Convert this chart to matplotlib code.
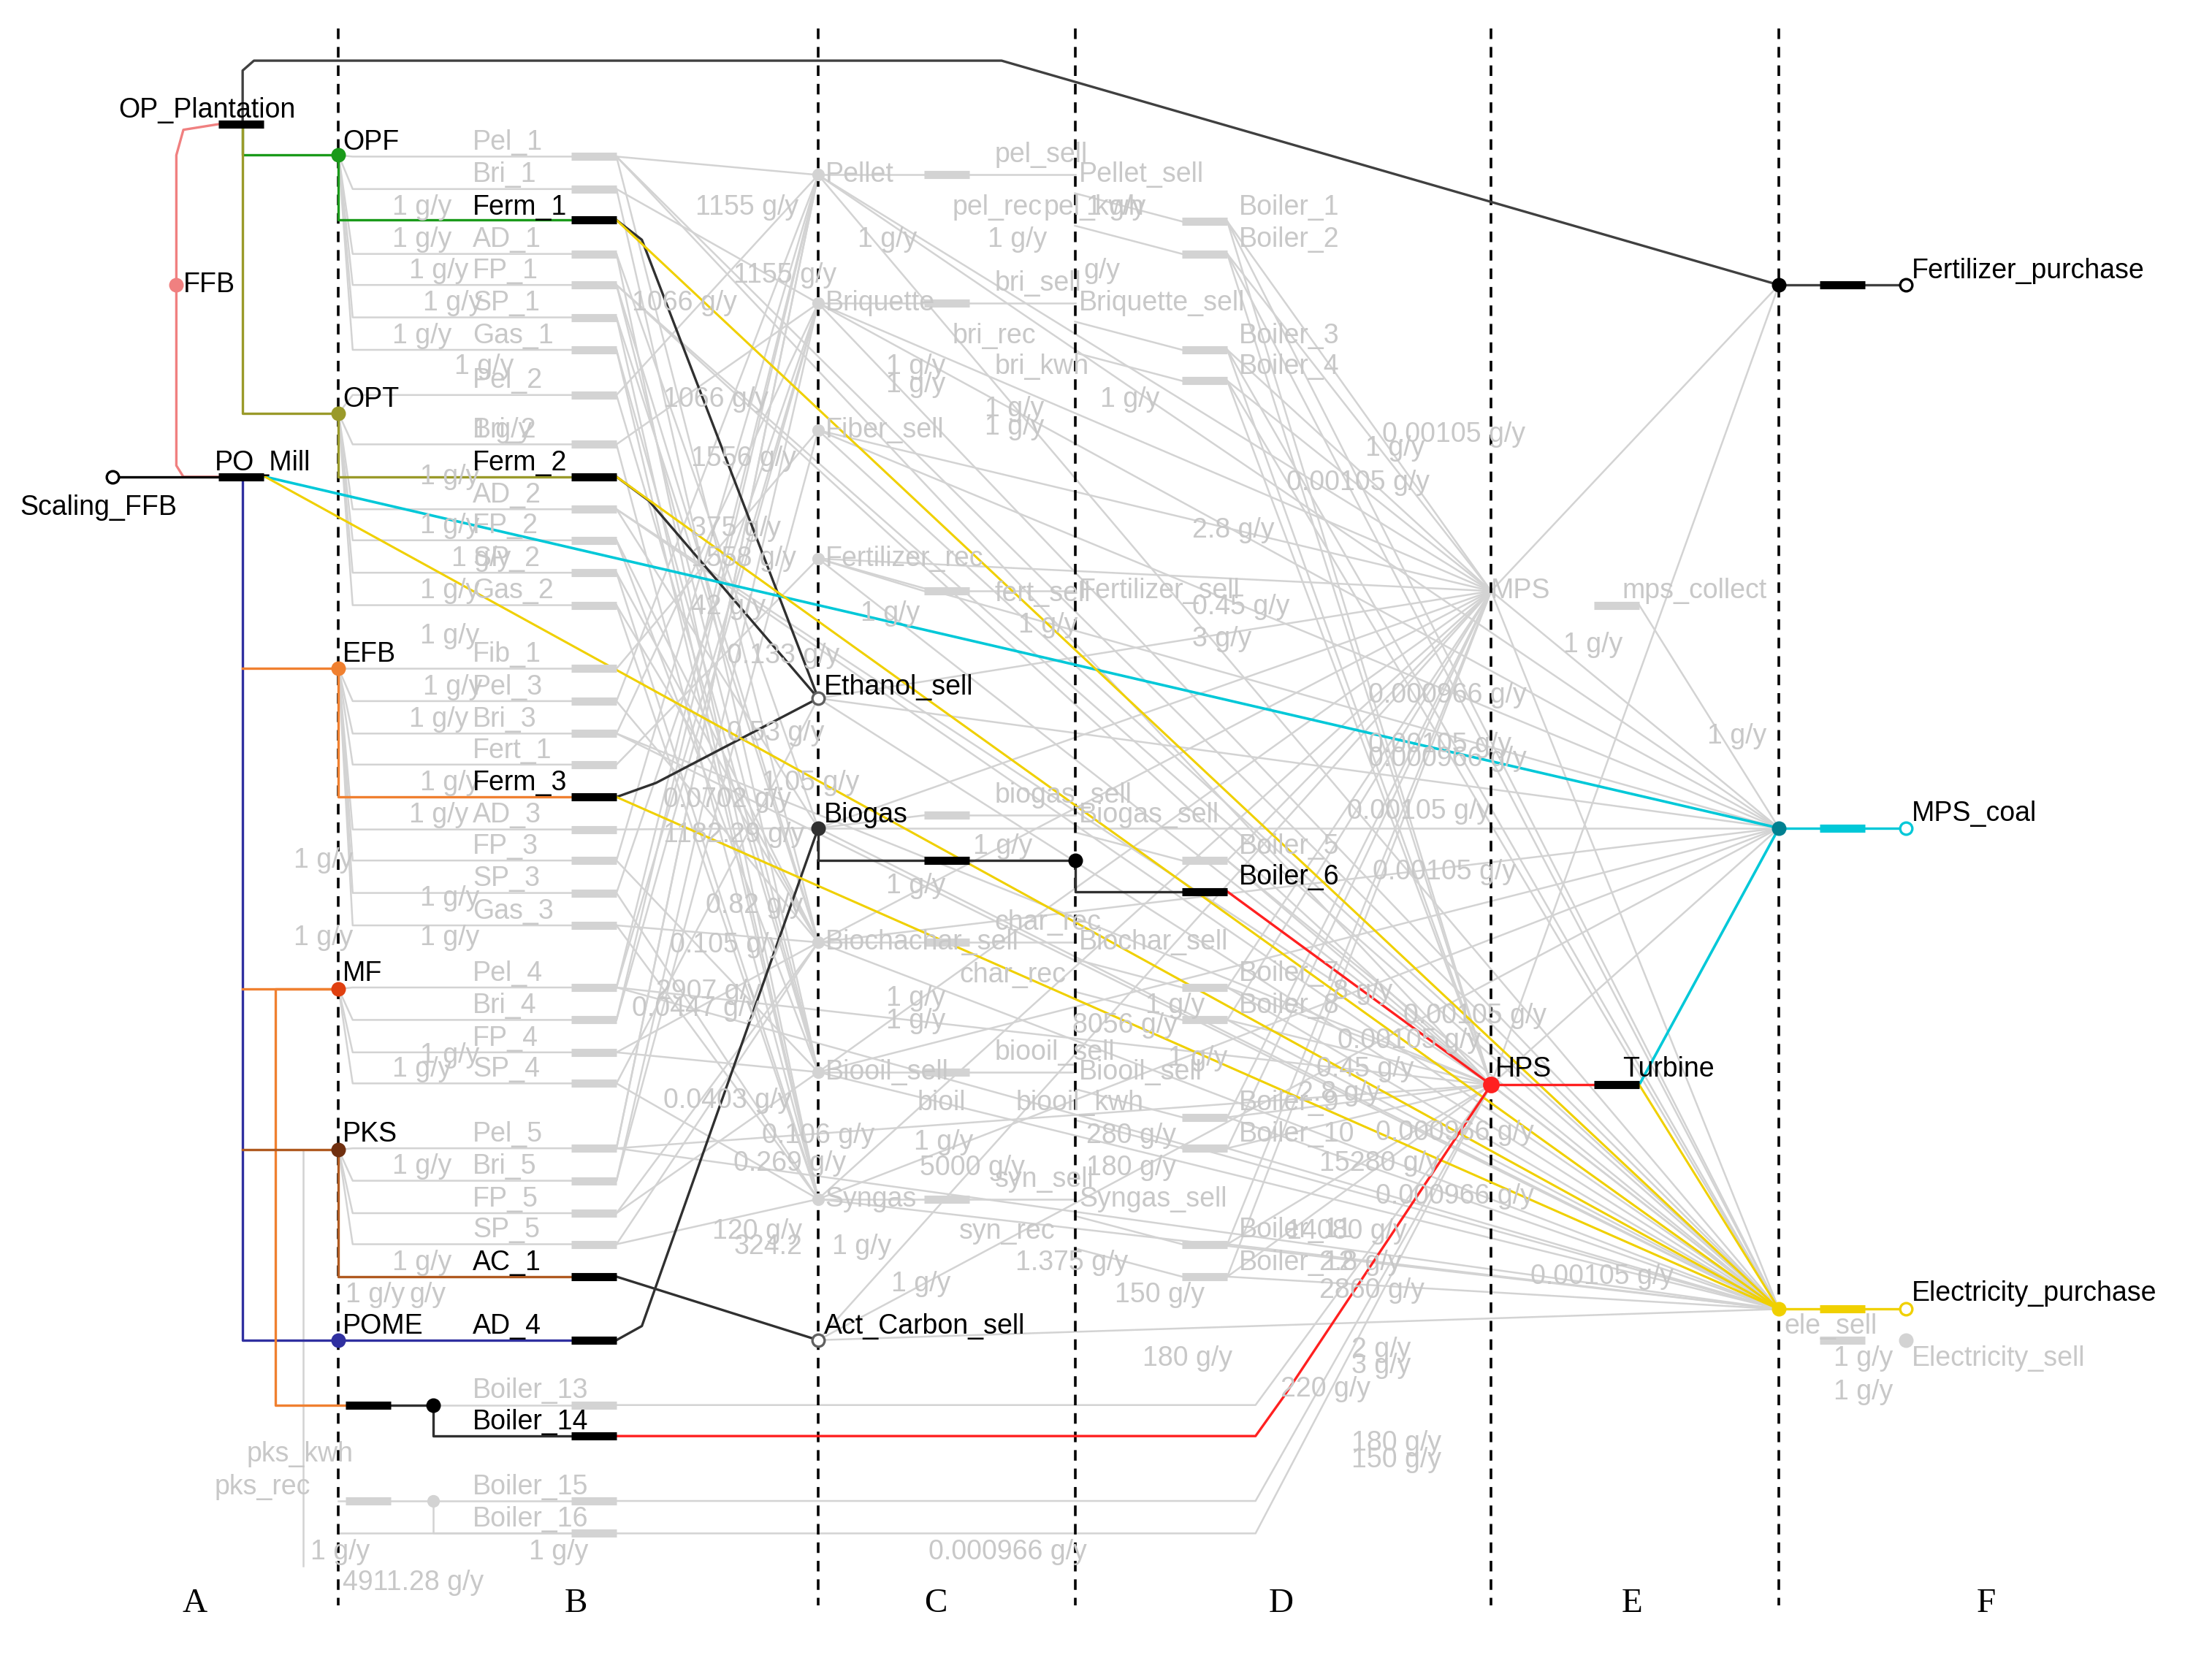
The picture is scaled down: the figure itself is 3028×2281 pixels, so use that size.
import matplotlib.pyplot as plt

# ---- layout columns and labels
col_x = [240, 580, 762, 1057, 1261]
col_letters = ["A", "B", "C", "D", "E", "F"]
col_letter_x = [138, 408, 663, 908, 1157, 1408]

# ---- grey process rows in column B (name, y of label)
b_rows = [("Pel_1", 101), ("Bri_1", 124), ("AD_1", 170), ("FP_1", 192), ("SP_1", 215),
          ("Gas_1", 238), ("Pel_2", 270), ("Bri_2", 305), ("AD_2", 351), ("FP_2", 373),
          ("SP_2", 396), ("Gas_2", 419), ("Fib_1", 464), ("Pel_3", 487), ("Bri_3", 510),
          ("Fert_1", 532), ("AD_3", 578), ("FP_3", 600), ("SP_3", 623), ("Gas_3", 646),
          ("Pel_4", 690), ("Bri_4", 713), ("FP_4", 736), ("SP_4", 758), ("Pel_5", 804),
          ("Bri_5", 827), ("FP_5", 850), ("SP_5", 872)]
b_source_y = [110, 110, 110, 110, 110, 110, 293, 293, 293, 293, 293, 293, 474, 474, 474,
              474, 474, 474, 474, 474, 701, 701, 701, 701, 815, 815, 815, 815]

# grey product nodes in column C (name, y)
c_nodes = {"Pellet": 124, "Briquette": 215, "Fiber_sell": 305, "Fertilizer_rec": 396,
           "Ethanol_sell": 495, "Biogas": 587, "Biochachar_sell": 668, "Biooil_sell": 760,
           "Syngas": 850, "Act_Carbon_sell": 950}
product_of = {"Pel": "Pellet", "Bri": "Briquette", "AD": "Biogas", "FP": "Biooil_sell",
              "SP": "Syngas", "Gas": "Syngas", "Fib": "Fiber_sell", "Fert": "Fertilizer_rec"}
# extra cross links B -> C (row, product)
b_cross = [("Pel_1", "Biochachar_sell"), ("Bri_1", "Biooil_sell"), ("AD_1", "Syngas"),
           ("FP_1", "Biochachar_sell"), ("SP_1", "Biochachar_sell"), ("Gas_1", "Biooil_sell"),
           ("Pel_2", "Biooil_sell"), ("Bri_2", "Syngas"), ("FP_2", "Biochachar_sell"),
           ("SP_2", "Biochachar_sell"), ("Gas_2", "Biochachar_sell"), ("Pel_3", "Biochachar_sell"),
           ("FP_3", "Pellet"), ("SP_3", "Briquette"), ("Gas_3", "Biochachar_sell"),
           ("Pel_4", "Briquette"), ("Bri_4", "Pellet"), ("FP_4", "Biochachar_sell"),
           ("SP_4", "Ethanol_sell"), ("Pel_5", "Pellet"), ("Bri_5", "Fiber_sell"),
           ("FP_5", "Biochachar_sell"), ("SP_5", "Biochachar_sell")]

# grey column D nodes
d_sell = {"Pellet_sell": 124, "Briquette_sell": 215, "Fertilizer_sell": 419,
          "Biogas_sell": 578, "Biochar_sell": 668, "Biooil_sell ": 760, "Syngas_sell": 850}
c_to_d = [("Pellet", "Pellet_sell", "pel_sell"), ("Briquette", "Briquette_sell", "bri_sell"),
          ("Fertilizer_rec", "Fertilizer_sell", "fert_sell"), ("Biogas", "Biogas_sell", "biogas_sell"),
          ("Biochachar_sell", "Biochar_sell", "char_rec"), ("Biooil_sell", "Biooil_sell ", "biooil_sell"),
          ("Syngas", "Syngas_sell", "syn_sell")]
boilers = [("Boiler_1", 147), ("Boiler_2", 170), ("Boiler_3", 238), ("Boiler_4", 260),
           ("Boiler_5", 600), ("Boiler_7", 690), ("Boiler_8", 713), ("Boiler_9", 782),
           ("Boiler_10", 804), ("Boiler_11", 872), ("Boiler_12", 895)]
low_boilers = [("Boiler_13", 986), ("Boiler_15", 1054), ("Boiler_16", 1077)]

# grey flow value labels (x, y, text)
flow_labels = [(278, 147, "1 g/y"), (278, 170, "1 g/y"), (290, 192, "1 g/y"), (300, 215, "1 g/y"),
               (278, 238, "1 g/y"), (322, 260, "1 g/y"), (335, 305, "1 g/y"), (298, 338, "1 g/y"),
               (298, 373, "1 g/y"), (320, 396, "1 g/y"), (298, 419, "1 g/y"), (298, 451, "1 g/y"),
               (300, 487, "1 g/y"), (290, 510, "1 g/y"), (298, 555, "1 g/y"), (290, 578, "1 g/y"),
               (208, 610, "1 g/y"), (298, 637, "1 g/y"), (208, 665, "1 g/y"), (298, 665, "1 g/y"),
               (298, 748, "1 g/y"), (278, 758, "1 g/y"), (278, 827, "1 g/y"), (278, 895, "1 g/y"),
               (245, 918, "1 g/y"), (290, 918, "g/y"), (220, 1100, "1 g/y"), (375, 1100, "1 g/y"),
               (243, 1122, "4911.28 g/y"), (493, 147, "1155 g/y"), (520, 195, "1155 g/y"),
               (448, 215, "1066 g/y"), (470, 283, "1066 g/y"), (490, 325, "1556 g/y"),
               (490, 375, "375 g/y"), (490, 396, "1558 g/y"), (490, 430, "42 g/y"),
               (515, 465, "0.133 g/y"), (515, 520, "0.53 g/y"), (540, 555, "1.05 g/y"),
               (470, 567, "0.0702 g/y"), (470, 592, "1182.29 g/y"), (500, 642, "0.82 g/y"),
               (475, 670, "0.105 g/y"), (465, 703, "2907 g/y"), (448, 715, "0.0447 g/y"),
               (470, 780, "0.0403 g/y"), (540, 805, "0.106 g/y"), (520, 825, "0.269 g/y"),
               (505, 873, "120 g/y"), (520, 884, "324.2"), (590, 884, "1 g/y"),
               (608, 170, "1 g/y"), (700, 170, "1 g/y"), (628, 260, "1 g/y"), (628, 273, "1 g/y"),
               (698, 290, "1 g/y"), (698, 303, "1 g/y"), (610, 435, "1 g/y"), (722, 443, "1 g/y"),
               (628, 628, "1 g/y"), (690, 600, "1 g/y"), (628, 708, "1 g/y"), (628, 724, "1 g/y"),
               (760, 727, "8056 g/y"), (812, 713, "1 g/y"), (828, 750, "1 g/y"), (648, 810, "1 g/y"),
               (652, 828, "5000 g/y"), (770, 805, "280 g/y"), (770, 828, "180 g/y"),
               (632, 910, "1 g/y"), (720, 895, "1.375 g/y"), (790, 918, "150 g/y"),
               (810, 963, "180 g/y"), (908, 985, "220 g/y"), (958, 1023, "180 g/y"),
               (958, 1035, "150 g/y"), (958, 968, "3 g/y"), (958, 957, "2 g/y"),
               (658, 1100, "0.000966 g/y"), (768, 192, "g/y"), (770, 147, "1 g/y"),
               (780, 283, "1 g/y"), (968, 318, "1 g/y"), (980, 308, "0.00105 g/y"),
               (912, 342, "0.00105 g/y"), (845, 376, "2.8 g/y"), (845, 430, "0.45 g/y"),
               (845, 453, "3 g/y"), (970, 493, "0.000966 g/y"), (970, 528, "0.00105 g/y"),
               (970, 538, "0.000966 g/y"), (955, 575, "0.00105 g/y"), (973, 618, "0.00105 g/y"),
               (945, 703, "8 g/y"), (995, 720, "0.00105 g/y"), (948, 738, "0.00105 g/y"),
               (933, 758, "0.45 g/y"), (920, 775, "2.8 g/y"), (975, 803, "0.000966 g/y"),
               (935, 825, "15280 g/y"), (975, 848, "0.000966 g/y"), (912, 873, "14080 g/y"),
               (935, 895, "2.8 g/y"), (935, 915, "2860 g/y"), (1085, 905, "0.00105 g/y"),
               (1108, 457, "1 g/y"), (1210, 522, "1 g/y"), (1300, 963, "1 g/y"),
               (1300, 987, "1 g/y")]

grey = "#d3d3d3"
tgrey = "#c8c8c8"

fig = plt.figure(figsize=(15.14, 11.405), dpi=200)
ax = fig.add_axes([0, 0, 1, 1])
ax.set_xlim(0, 1568)
ax.set_ylim(1181, 0)
ax.axis("off")
plt.rcParams["font.family"] = ["Liberation Sans", "DejaVu Sans"]
FS = 13.5


def bar(x, y, c="black", w=32):
    ax.plot([x, x + w], [y, y], color=c, lw=4, solid_capstyle="butt", zorder=5)


def line(xs, ys, c=grey, lw=0.9, z=1):
    ax.plot(xs, ys, color=c, lw=lw, zorder=z)


def dot(x, y, c="black", s=6, hollow=False):
    ax.plot(x, y, "o", ms=s, mfc="white" if hollow else c, mec=c, mew=1.2, zorder=6)


def label(x, y, t, c="black", ha="left", va="center", fs=FS):
    ax.text(x, y, t, color=c, ha=ha, va=va, fontsize=fs, zorder=7)


# ---- grey network background
for (name, y), sy in zip(b_rows, b_source_y):
    line([240, 250, 405], [sy, y + 10, y + 10])
    bar(405, y + 10, c=grey)
    label(335, y, name, c=tgrey)
    tgt = product_of[name.split("_")[0]]
    line([437, 580], [y + 10, c_nodes[tgt]])
for name, tgt in b_cross:
    y = dict(b_rows)[name]
    line([437, 580], [y + 10, c_nodes[tgt]])

for name, y in c_nodes.items():
    if name in ("Ethanol_sell", "Biogas", "Act_Carbon_sell"):
        continue
    dot(580, y, c=grey, s=5)
    label(585, y, name, c=tgrey)

for c, d, small in c_to_d:
    yc, yd = c_nodes[c], d_sell[d]
    line([580, 655], [yc, yd])
    bar(655, yd, c=grey)
    line([687, 762], [yd, yd])
    label(705, yd - 14 if small != "fert_sell" else yd + 2, small, c=tgrey, fs=FS)
    label(765, yd, d.strip(), c=tgrey)

# small grey helper text in C/D columns
for x, y, t in [(675, 147, "pel_rec"), (740, 147, "pel_kwh"), (675, 238, "bri_rec"),
                (705, 260, "bri_kwh"), (680, 691, "char_rec"),
                (650, 782, "bioil"), (720, 782, "biooil_kwh"), (680, 873, "syn_rec")]:
    label(x, y, t, c=tgrey)

for bn, by in boilers:
    bar(838, by + 10, c=grey)
    label(878, by, bn, c=tgrey)
    line([762, 838], [by + 10 - 20, by + 10])
    line([870, 1057], [by + 10, 769])
    line([870, 1057], [by + 10, 419])
    line([870, 1261], [by + 10, 928])
for bn, by in low_boilers:
    bar(405, by + 10, c=grey)
    label(335, by, bn, c=tgrey)
    line([240, 405], [by + 10, by + 10])
    line([437, 890, 1057], [by + 10, by + 10, 769])
bar(245, 1064, c=grey)
dot(307, 1064, c=grey, s=5)
line([307, 307, 405], [1064, 1087, 1087])
label(175, 1031, "pks_kwh", c=tgrey)
label(152, 1054, "pks_rec", c=tgrey)
line([215, 215], [815, 1110])

# MPS fan and electricity fan
for yy in [124, 215, 305, 396, 495, 587, 668, 760, 850, 950]:
    line([580, 1057], [yy, 419])
    line([580, 1261], [yy, 928])
    line([580, 1261], [yy, 587])
for yy in [101, 192, 351, 510, 690, 804]:
    line([437, 1261], [yy + 10, 928])
    line([437, 1057], [yy + 10, 769])
for yy in [419, 769]:
    for ty in [587, 928, 202]:
        line([1057, 1261], [yy, ty])
label(1057, 419, "MPS", c=tgrey)
bar(1130, 429, c=grey)
label(1150, 419, "mps_collect", c=tgrey)
line([1162, 1261], [429, 587])
label(1265, 940, "ele_sell", c=tgrey)
bar(1290, 950, c=grey)
dot(1351, 950, c=grey, s=6)
label(1355, 963, "Electricity_sell", c=tgrey)

for x, y, t in flow_labels:
    label(x, y, t, c=tgrey)

# ---- dashed column separators
for x in col_x:
    ax.plot([x, x], [20, 1138], color="black", lw=1.3, ls=(0, (4, 3)), zorder=3)
for x, t in zip(col_letter_x, col_letters):
    ax.text(x, 1137, t, fontsize=17, family="Liberation Serif", ha="center", va="center")

# ---- highlighted flows
pink, green, olive, navy = "#f08080", "#1a9a1a", "#9a9a2a", "#3030a0"
orange, brown, cyan, yellow, red = "#f08030", "#b05a20", "#00c8d8", "#f0d000", "#ff2020"

line([172, 172, 180, 710, 1261], [88, 50, 43, 43, 202], c="#404040", lw=1.2, z=4)
line([155, 130, 125, 125, 130, 155], [88, 92, 110, 330, 338, 338], c=pink, lw=1.2, z=4)
line([172, 172, 240], [88, 110, 110], c=green, lw=1.2, z=4)
line([240, 240, 405], [110, 156, 156], c=green, lw=1.2, z=4)
line([172, 172, 240], [88, 293, 293], c=olive, lw=1.2, z=4)
line([240, 240, 405], [293, 338, 338], c=olive, lw=1.2, z=4)
line([80, 155], [338, 338], c="black", lw=1.2, z=4)
line([172, 172, 240], [338, 950, 950], c=navy, lw=1.2, z=4)
line([240, 405], [950, 950], c=navy, lw=1.2, z=4)
line([172, 240], [474, 474], c=orange, lw=1.2, z=4)
line([240, 240, 405], [474, 565, 565], c=orange, lw=1.2, z=4)
line([172, 240], [701, 701], c=orange, lw=1.2, z=4)
line([240, 195, 195, 245], [701, 701, 996, 996], c=orange, lw=1.2, z=4)
line([172, 240], [815, 815], c=brown, lw=1.2, z=4)
line([240, 240, 405], [815, 905, 905], c=brown, lw=1.2, z=4)

line([437, 455, 580], [156, 170, 495], c="#303030", lw=1.2, z=4)
line([437, 460, 580], [338, 355, 495], c="#303030", lw=1.2, z=4)
line([437, 465, 580], [565, 555, 495], c="#303030", lw=1.2, z=4)
line([437, 455, 580], [950, 940, 587], c="#303030", lw=1.2, z=4)
line([437, 580], [905, 950], c="#303030", lw=1.2, z=4)
line([580, 580, 655], [587, 610, 610], c="#303030", lw=1.2, z=4)
line([687, 762, 762, 838], [610, 610, 632, 632], c="#303030", lw=1.2, z=4)
line([277, 307, 307, 405], [996, 996, 1018, 1018], c="#303030", lw=1.2, z=4)

line([188, 1261], [338, 587], c=cyan, lw=1.3, z=4)
line([1162, 1261], [769, 587], c=cyan, lw=1.3, z=4)
for y in [338, 156, 565]:
    line([437, 1261], [y, 928], c=yellow, lw=1.1, z=4)
line([188, 1261], [338, 928], c=yellow, lw=1.1, z=4)
line([1162, 1261], [769, 928], c=yellow, lw=1.1, z=4)
line([870, 1057], [632, 769], c=red, lw=1.2, z=4)
line([437, 890, 910, 1057], [1018, 1018, 990, 769], c=red, lw=1.2, z=4)
line([1057, 1130], [769, 769], c=red, lw=1.2, z=4)
line([1322, 1351], [202, 202], c="#404040", lw=1.2, z=4)
line([1261, 1290], [202, 202], c="#404040", lw=1.2, z=4)
line([1261, 1351], [587, 587], c=cyan, lw=1.2, z=4)
line([1261, 1351], [928, 928], c=yellow, lw=1.2, z=4)

# ---- highlighted nodes
for x, y in [(155, 88), (155, 338), (405, 156), (405, 338), (405, 565), (405, 905),
             (405, 950), (405, 1018), (245, 996), (655, 610), (838, 632), (1130, 769),
             (1290, 202)]:
    bar(x, y)
bar(1290, 587, c=cyan)
bar(1290, 928, c=yellow)
dot(125, 202, c=pink)
dot(240, 110, c=green)
dot(240, 293, c=olive)
dot(240, 474, c=orange)
dot(240, 701, c="#e04010")
dot(240, 815, c="#703010")
dot(240, 950, c=navy)
dot(80, 338, hollow=True, s=6)
dot(580, 495, c="#606060", hollow=True)
dot(580, 587, c="#303030")
dot(580, 950, c="#606060", hollow=True)
dot(762, 610)
dot(307, 996)
dot(1057, 769, c=red, s=7)
dot(1261, 202, s=6)
dot(1261, 587, c="#008090", s=6)
dot(1261, 928, c=yellow, s=6)
dot(1351, 202, hollow=True, s=6)
dot(1351, 587, c=cyan, hollow=True, s=6)
dot(1351, 928, c=yellow, hollow=True, s=6)

label(84, 78, "OP_Plantation")
label(130, 202, "FFB")
label(243, 101, "OPF")
label(243, 283, "OPT")
label(152, 328, "PO_Mill")
label(14, 360, "Scaling_FFB")
label(335, 147, "Ferm_1")
label(335, 328, "Ferm_2")
label(243, 464, "EFB")
label(335, 555, "Ferm_3")
label(243, 690, "MF")
label(243, 804, "PKS")
label(335, 895, "AC_1")
label(243, 940, "POME")
label(335, 940, "AD_4")
label(335, 1008, "Boiler_14")
label(584, 487, "Ethanol_sell")
label(584, 578, "Biogas")
label(584, 940, "Act_Carbon_sell")
label(878, 622, "Boiler_6")
label(1060, 758, "HPS")
label(1150, 758, "Turbine")
label(1355, 192, "Fertilizer_purchase")
label(1355, 577, "MPS_coal")
label(1355, 917, "Electricity_purchase")

fig.savefig("out.png", dpi=200)
